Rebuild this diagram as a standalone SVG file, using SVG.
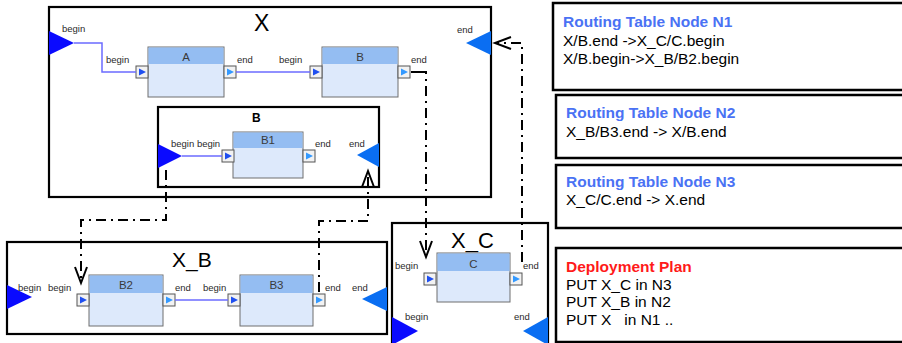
<svg xmlns="http://www.w3.org/2000/svg" xmlns:xlink="http://www.w3.org/1999/xlink" width="902" height="343" viewBox="0 0 902 343">
  <style>
    .frame { fill: #ffffff; stroke: #000000; stroke-width: 2.2; }
    .panel { fill: #ffffff; stroke: #000000; stroke-width: 2.5; }
    .body { fill: #dde9fb; stroke: #6e6e6e; stroke-width: 1; }
    .head { fill: #94bdf2; }
    .title { font-family: "Liberation Sans", Arial, sans-serif; font-size: 11.5px; fill: #3a3a3a; text-anchor: middle; }
    .lbl { font-family: "Liberation Sans", Arial, sans-serif; font-size: 9.5px; fill: #2a2a2a; }
    .big { font-family: "Liberation Sans", Arial, sans-serif; font-size: 23px; fill: #000000; }
    .sub { font-family: "Liberation Sans", Arial, sans-serif; font-size: 12px; font-weight: bold; fill: #000000; }
    .wire { fill: none; stroke: #6b6bff; stroke-width: 1.5; }
    .route { fill: none; stroke: #000000; stroke-width: 2; stroke-dasharray: 10 5 2 5; }
    .inTri { fill: #0a0aff; }
    .outTri { fill: #0a6ef2; }
    .hd { font-family: "Liberation Sans", Arial, sans-serif; font-size: 15.5px; font-weight: bold; }
    .txt { font-family: "Liberation Sans", Arial, sans-serif; font-size: 15.5px; fill: #000000; }
  </style>
  <defs>
    <!-- small connector ports on the blocks -->
    <g id="inPort">
      <rect x="0" y="0" width="12" height="12" fill="#f2f2f2" stroke="#555555" stroke-width="1"/>
      <polygon points="3,2.5 3,9.5 10,6" fill="#1f4ff0"/>
    </g>
    <g id="outPort">
      <rect x="0" y="0" width="12" height="12" fill="#f2f2f2" stroke="#555555" stroke-width="1"/>
      <polygon points="3,2.5 3,9.5 10,6" fill="#3399ff"/>
    </g>
    <marker id="open" markerUnits="userSpaceOnUse" markerWidth="20" markerHeight="16" refX="17" refY="7" orient="auto">
      <path d="M1,1 L17,7 L1,13" fill="none" stroke="#000000" stroke-width="2"/>
    </marker>
  </defs>

  <!-- composite X -->
  <g id="X">
    <rect class="frame" x="49" y="7" width="442" height="190"/>
    <text class="big" x="254" y="31">X</text>
    <polygon class="inTri" points="49,31 49,55 74,43"/>
    <text class="lbl" x="62" y="32">begin</text>
    <polygon class="outTri" points="491,31 491,55 466,43"/>
    <text class="lbl" x="457" y="33">end</text>
  </g>

  <g id="A">
    <rect class="body" x="148" y="47" width="76" height="50"/>
    <rect class="head" x="148.5" y="47.5" width="75" height="16.5"/>
    <text class="title" x="186" y="61">A</text>
    <use xlink:href="#inPort" x="136" y="66"/>
    <use xlink:href="#outPort" x="224" y="66"/>
    <text class="lbl" x="106" y="63">begin</text>
    <text class="lbl" x="237" y="63">end</text>
  </g>

  <g id="B">
    <rect class="body" x="322" y="47" width="76" height="50"/>
    <rect class="head" x="322.5" y="47.5" width="75" height="16.5"/>
    <text class="title" x="360" y="61">B</text>
    <use xlink:href="#inPort" x="310" y="66"/>
    <use xlink:href="#outPort" x="398" y="66"/>
    <text class="lbl" x="279" y="63">begin</text>
    <text class="lbl" x="411" y="63">end</text>
  </g>

  <!-- composite B inside X -->
  <g id="B_composite">
    <rect class="frame" x="158" y="107" width="221" height="80"/>
    <text class="sub" x="252" y="122">B</text>
    <polygon class="inTri" points="158,144 158,168 182,156"/>
    <polygon class="outTri" points="379,143 379,167 357,155"/>
    <text class="lbl" x="171" y="147">begin begin</text>
    <text class="lbl" x="349" y="147">end</text>
  </g>

  <g id="B1">
    <rect class="body" x="233" y="132" width="70" height="46"/>
    <rect class="head" x="233.5" y="132.5" width="69" height="15.5"/>
    <text class="title" x="268" y="144">B1</text>
    <use xlink:href="#inPort" x="222" y="150"/>
    <use xlink:href="#outPort" x="303" y="150"/>
    <text class="lbl" x="315" y="147">end</text>
  </g>

  <!-- composite X_B -->
  <g id="X_B">
    <rect class="frame" x="7" y="242" width="380" height="92"/>
    <text class="big" x="172" y="267" style="font-size:21px">X_B</text>
    <polygon class="inTri" points="7,285 7,309 32,297"/>
    <polygon class="outTri" points="387,287 387,311 362,299"/>
    <text class="lbl" x="18" y="291">begin</text>
    <text class="lbl" x="352" y="291">end</text>
  </g>

  <g id="B2">
    <rect class="body" x="89" y="275" width="74" height="51"/>
    <rect class="head" x="89.5" y="275.5" width="73" height="17.5"/>
    <text class="title" x="126" y="289">B2</text>
    <use xlink:href="#inPort" x="77" y="294"/>
    <use xlink:href="#outPort" x="163" y="294"/>
    <text class="lbl" x="48" y="291">begin</text>
    <text class="lbl" x="175" y="291">end</text>
  </g>

  <g id="B3">
    <rect class="body" x="240" y="275" width="73" height="51"/>
    <rect class="head" x="240.5" y="275.5" width="72" height="17.5"/>
    <text class="title" x="276.5" y="289">B3</text>
    <use xlink:href="#inPort" x="228" y="294"/>
    <use xlink:href="#outPort" x="313" y="294"/>
    <text class="lbl" x="203" y="291">begin</text>
    <text class="lbl" x="325" y="291">end</text>
  </g>

  <!-- composite X_C -->
  <g id="X_C">
    <rect class="frame" x="392" y="223" width="156" height="125"/>
    <text class="big" x="451" y="248" style="font-size:22px">X_C</text>
    <polygon class="inTri" points="392,317 392,345 418,331"/>
    <polygon class="outTri" points="548,317 548,345 523,331"/>
    <text class="lbl" x="395" y="269">begin</text>
    <text class="lbl" x="523" y="269">end</text>
    <text class="lbl" x="405" y="320">begin</text>
    <text class="lbl" x="514" y="320">end</text>
  </g>

  <g id="C">
    <rect class="body" x="437" y="253" width="73" height="49"/>
    <rect class="head" x="437.5" y="253.5" width="72" height="17.5"/>
    <text class="title" x="473.5" y="268">C</text>
    <use xlink:href="#inPort" x="424" y="273"/>
    <use xlink:href="#outPort" x="510" y="273"/>
  </g>

  <!-- connectors -->
  <g id="connectors">
    <path class="wire" d="M74,43 H102 V72 H136"/>
    <path class="wire" d="M236,72 H310"/>
    <path class="wire" d="M182,156 H222"/>
    <path class="wire" d="M175,300 H228"/>
    <path d="M411,72 H418" stroke="#000000" stroke-width="2"/>
    <path class="route" d="M418,72 H426 V257" marker-end="url(#open)"/>
    <path class="route" d="M522,262 V43 H495" marker-end="url(#open)"/>
    <path class="route" d="M166,170 V220 H81 V283" marker-end="url(#open)"/>
    <path class="route" d="M319,292 V221 H368 V171" marker-end="url(#open)"/>
  </g>

  <!-- routing tables and plan -->
  <g id="N1">
    <rect class="panel" x="553" y="3" width="360" height="87"/>
    <text class="hd" x="563" y="27" fill="#4a72f4">Routing Table Node N1</text>
    <text class="txt" x="563" y="46">X/B.end -&gt;X_C/C.begin</text>
    <text class="txt" x="563" y="64">X/B.begin-&gt;X_B/B2.begin</text>
  </g>
  <g id="N2">
    <rect class="panel" x="556" y="95" width="360" height="63"/>
    <text class="hd" x="566" y="118" fill="#4a72f4">Routing Table Node N2</text>
    <text class="txt" x="566" y="137">X_B/B3.end -&gt; X/B.end</text>
  </g>
  <g id="N3">
    <rect class="panel" x="556" y="165" width="360" height="63"/>
    <text class="hd" x="566" y="187" fill="#4a72f4">Routing Table Node N3</text>
    <text class="txt" x="566" y="205">X_C/C.end -&gt; X.end</text>
  </g>
  <g id="plan">
    <rect class="panel" x="556" y="248" width="360" height="94"/>
    <text class="hd" x="566" y="272" fill="#ff1a1a">Deployment Plan</text>
    <text class="txt" x="566" y="290">PUT X_C in N3</text>
    <text class="txt" x="566" y="307">PUT X_B in N2</text>
    <text class="txt" x="566" y="325" xml:space="preserve">PUT X   in N1 ..</text>
  </g>
</svg>
